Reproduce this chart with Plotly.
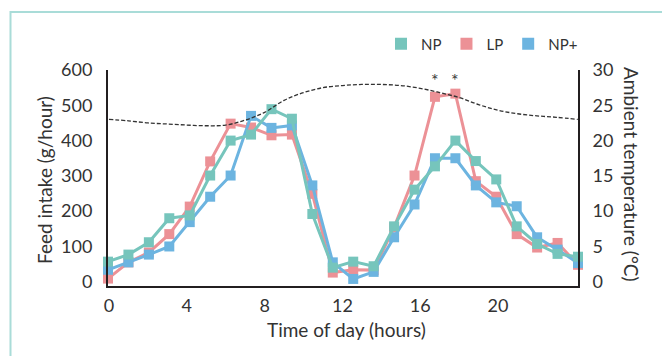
import plotly.graph_objects as go

# ---- data ----
sample_index = list(range(24))  # hourly samples across the day
np_feed = [57, 77, 112, 180, 188, 301, 400, 417, 489, 462, 192, 40, 57, 44, 157, 261, 327, 400, 342, 290, 157, 107, 79, 71]
lp_feed = [9, 55, 83, 135, 213, 341, 448, 437, 415, 417, 249, 26, 34, 33, 154, 301, 524, 533, 285, 241, 135, 97, 110, 48]
npp_feed = [34, 55, 77, 100, 169, 241, 301, 470, 436, 443, 273, 55, 8, 28, 126, 219, 350, 350, 273, 225, 214, 126, 91, 53]

temp_hours = [0, 1, 2, 3, 4, 5, 6, 7, 8, 9, 10, 11, 12, 13, 14, 15, 16, 17, 18, 19, 20, 21, 22, 23, 24.1]
temp_c = [23.0, 22.8, 22.5, 22.35, 22.2, 22.1, 22.2, 22.9, 24.0, 25.7, 26.8, 27.5, 27.8, 27.95, 27.95, 27.8, 27.4, 26.8, 26.1, 25.1, 24.3, 23.8, 23.5, 23.3, 23.0]

x_ticks = [0, 4, 8, 12, 16, 20]
y_ticks = [0, 100, 200, 300, 400, 500, 600]
y2_ticks = [0, 5, 10, 15, 20, 25, 30]
star_index = [16, 17]
star_level = [572, 572]

series_names = ["NP", "LP", "NP+"]
colors = {"NP": "#76C5BC", "LP": "#EC9196", "NP+": "#6CB4E0"}
values = {"NP": np_feed, "LP": lp_feed, "NP+": npp_feed}

FONT = "Lato"
TXT = "#333333"
AX = "#231F20"

fig = go.Figure()

# temperature (dashed) on secondary axes
fig.add_trace(go.Scatter(x=temp_hours, y=temp_c, mode="lines", xaxis="x2", yaxis="y2",
                         line=dict(color="#333333", width=1.3, dash="4px,2px", shape="spline"),
                         showlegend=False, hoverinfo="skip"))

for name in ["LP", "NP+", "NP"]:
    fig.add_trace(go.Scatter(x=sample_index, y=values[name], mode="lines+markers", name=name,
                             line=dict(color=colors[name], width=3),
                             marker=dict(symbol="square", size=10, color=colors[name]),
                             cliponaxis=False, showlegend=False))

# legend entries (square swatches)
for name in series_names:
    fig.add_trace(go.Scatter(x=[None], y=[None], mode="markers", name=name,
                             marker=dict(symbol="square", size=12, color=colors[name]),
                             showlegend=True))

# asterisks
for xi, yv in zip(star_index, star_level):
    fig.add_annotation(x=xi, y=yv, xref="x", yref="y", text="*", showarrow=False,
                       xanchor="center", yanchor="middle",
                       font=dict(family=FONT, size=18, color="#3a3a3a"))

W, H = 662, 356
L, R, T, B = 108, 84, 70, 70
pw, ph = W - L - R, H - T - B

def px(xp):
    return (xp - L) / pw

def py(yp):
    return (H - B - yp) / ph

# axis titles
title_font = dict(family=FONT, size=19, color=TXT)
fig.add_annotation(x=px(44), y=py(180), xref="paper", yref="paper", text="Feed intake (g/hour)",
                   textangle=-90, showarrow=False, xanchor="center", yanchor="middle", font=title_font)
fig.add_annotation(x=px(632), y=py(174), xref="paper", yref="paper", text="Ambient temperature (°C)",
                   textangle=90, showarrow=False, xanchor="center", yanchor="middle", font=title_font)
fig.add_annotation(x=px(346), y=py(329), xref="paper", yref="paper", text="Time of day (hours)",
                   showarrow=False, xanchor="center", yanchor="middle", font=title_font)

# card border (left and top visible)
fig.add_shape(type="rect", xref="paper", yref="paper", x0=px(10.5), y0=py(380), x1=px(700), y1=py(12),
              line=dict(color="#A9DCD8", width=2), fillcolor="rgba(0,0,0,0)", layer="below")

tick_font = dict(family=FONT, size=18, color=TXT)
fig.update_layout(
    width=W, height=H, margin=dict(l=L, r=R, t=T, b=B, autoexpand=False),
    paper_bgcolor="white", plot_bgcolor="white",
    font=dict(family=FONT, size=17, color=TXT),
    showlegend=True,
    legend=dict(orientation="h", x=px(381), y=py(44), xanchor="left", yanchor="middle",
                font=dict(family=FONT, size=15, color=TXT), bgcolor="rgba(0,0,0,0)",
                itemwidth=30, tracegroupgap=0),
    xaxis=dict(range=[0, 23], visible=False, fixedrange=True),
    xaxis2=dict(overlaying="x", anchor="y2", side="bottom", range=[-0.05, 24.11],
                tickvals=x_ticks, ticktext=[str(v) for v in x_ticks],
                showline=True, linecolor=AX, linewidth=2, showgrid=False, zeroline=False,
                ticks="outside", ticklen=2, tickcolor="rgba(0,0,0,0)", tickfont=tick_font),
    yaxis=dict(range=[-12, 600], tickvals=y_ticks, showline=True, linecolor=AX, linewidth=2,
               showgrid=False, zeroline=False, ticks="outside", ticklen=10, tickcolor="rgba(0,0,0,0)",
               tickfont=tick_font),
    yaxis2=dict(overlaying="y", anchor="x2", side="right", range=[-0.6, 30], tickvals=y2_ticks,
                showline=True, linecolor=AX, linewidth=2, showgrid=False, zeroline=False,
                ticks="outside", ticklen=9, tickcolor="rgba(0,0,0,0)", tickfont=tick_font),
)

fig.write_html("out.html", config={"displayModeBar": False},
               post_script="document.body.style.margin='0px';document.body.style.overflow='hidden';")
